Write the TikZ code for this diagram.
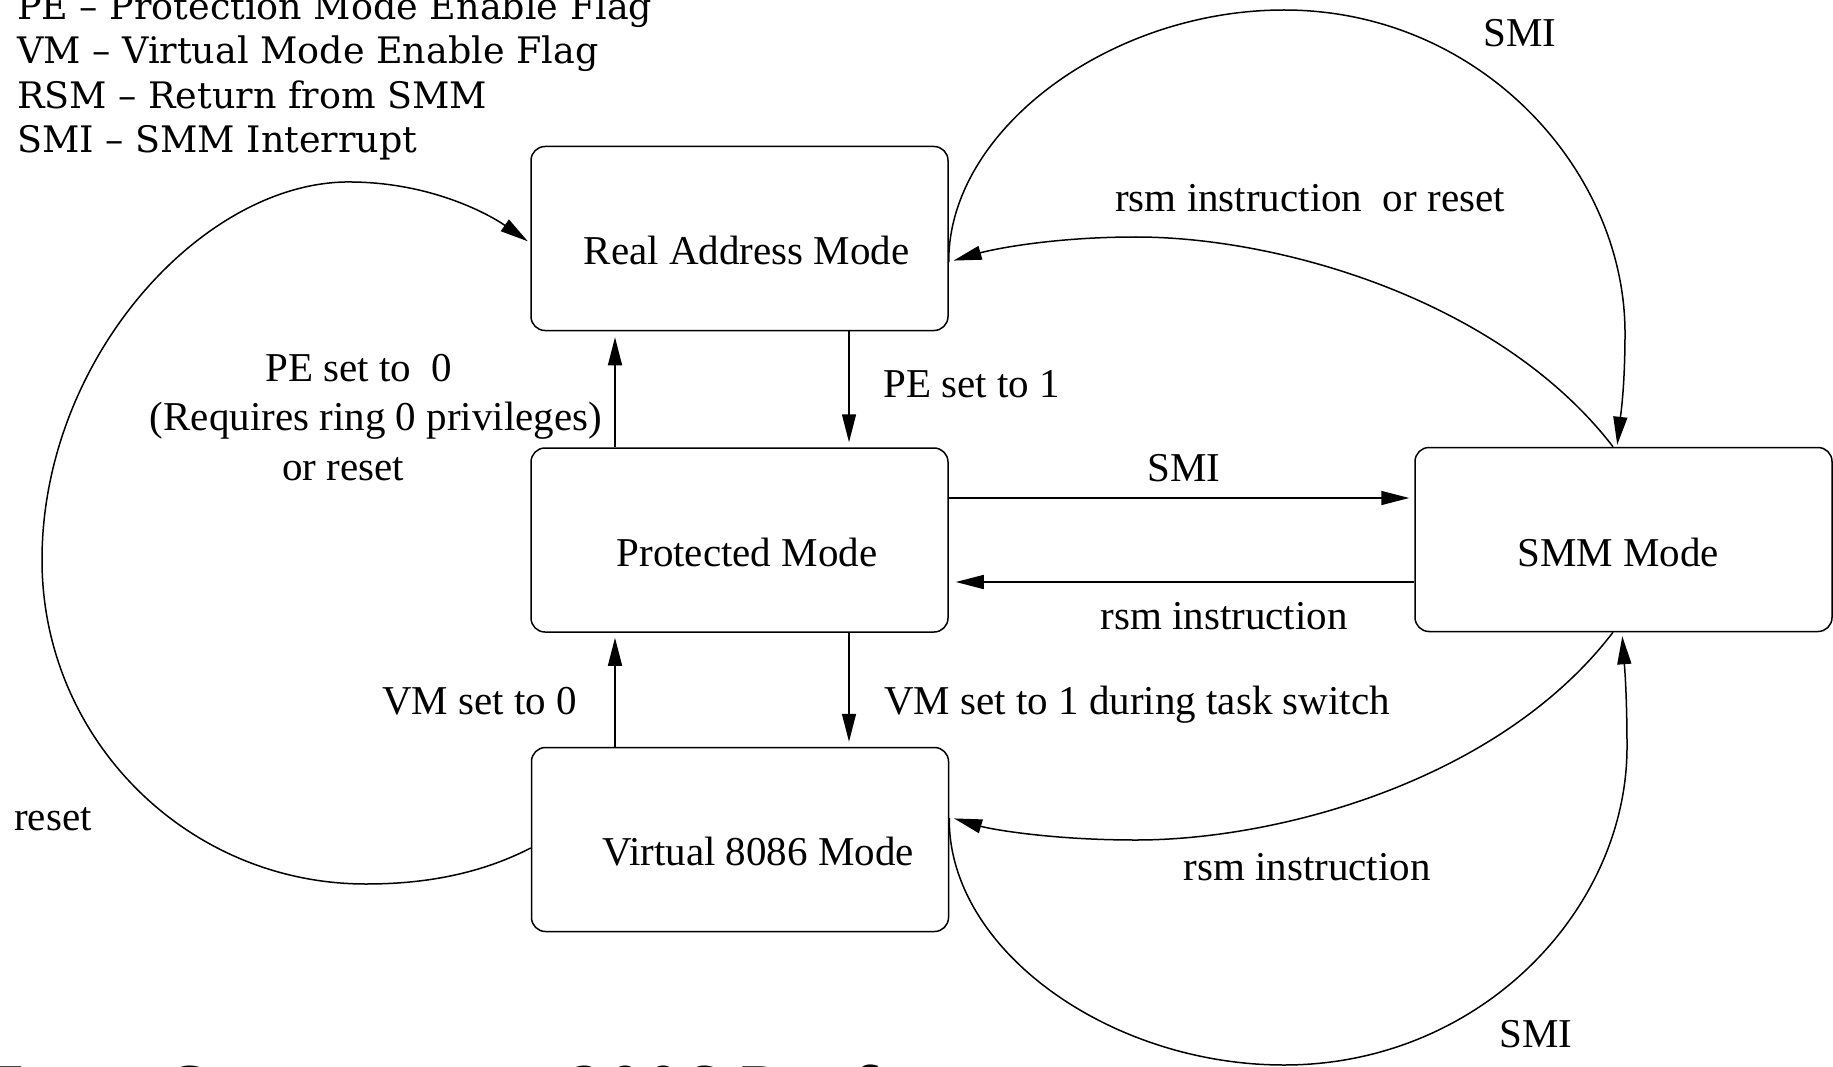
\documentclass[tikz,border=0pt]{standalone}
\usepackage{fontspec}
\setmainfont{Liberation Serif}
\newfontfamily\legendfont{DejaVu Serif}
\usetikzlibrary{arrows.meta,calc}
\begin{document}
\begin{tikzpicture}[x=1pt,y=-1pt,
  mode/.style={draw, rounded corners=14pt, line width=1.5pt, minimum width=417pt, minimum height=184pt, inner sep=0pt},
  lbl/.style={font=\fontsize{41}{49}\selectfont, inner sep=0pt, anchor=base},
  leg/.style={font=\legendfont\fontsize{36.5}{44}\selectfont, inner sep=0pt, anchor=base west},
  arr/.style={line width=1.5pt, -{Triangle[length=28pt,width=14pt]}},
  curve/.style={line width=1.5pt, -{Triangle[length=28pt,width=14pt]}}]
\useasboundingbox (0,0) rectangle (1833,1067);
\clip (0,0) rectangle (1833,1067);

% legend
\node[leg] (legpe) at (17,20) {PE – Protection Mode Enable Flag};
\node[leg] (legvm) at (17,64) {VM – Virtual Mode Enable Flag};
\node[leg] (legrsm) at (17,108.5) {RSM – Return from SMM};
\node[leg] (legsmi) at (17,153) {SMI – SMM Interrupt};

% source line (cut off at the bottom, as in the reference)
\node[font=\legendfont\fontsize{60}{72}\selectfont, inner sep=0pt, anchor=base west] (src) at (-18,1110) {From Grossman et 2006 Draft};

% mode boxes
\node[mode] (real) at (739.5,238.5) {};
\node[mode] (prot) at (739.5,540) {};
\node[mode] (virt) at (740,839.5) {};
\node[mode] (smm) at (1623.5,539.5) {};

\node[lbl] (realtxt) at (746.5,265) {Real Address Mode};
\node[lbl] (prottxt) at (747,566) {Protected Mode};
\node[lbl] (virttxt) at (758,865) {Virtual 8086 Mode};
\node[lbl] (smmtxt) at (1618,566) {SMM Mode};

% vertical transitions
\draw[arr, shorten >=6pt] (615,0 |- prot.north) -- (615,0 |- real.south);
\draw[arr, shorten >=5pt] (849,0 |- real.south) -- (849,0 |- prot.north);
\draw[arr, shorten >=5pt] (615,0 |- virt.north) -- (615,0 |- prot.south);
\draw[arr, shorten >=5pt] (849,0 |- prot.south) -- (849,0 |- virt.north);

% protected <-> SMM
\draw[arr, shorten >=5pt] (prot.east |- 0,498) -- (smm.west |- 0,498);
\draw[arr, shorten >=7pt] (smm.west |- 0,582) -- (prot.east |- 0,582);

% reset loop on the left
\draw[curve, shorten >=3pt] (virt.west |- 0,848) .. controls (480,874) and (425,884) .. (366,884)
  .. controls (187,884) and (42,739) .. (42,560)
  .. controls (42,360) and (200,185) .. (345,182)
  .. controls (430,181) and (490,215) .. (real.west |- 0,243);

% real <-> SMM
\draw[curve, shorten >=2pt] (real.east |- 0,262) .. controls (948,130) and (1110,10) .. (1284,10)
  .. controls (1480,10) and (1625,170) .. (1625,333)
  .. controls (1625,390) and (1620,420) .. (1617,0 |- smm.north);
\draw[curve, shorten >=5pt] (1613,0 |- smm.north) .. controls (1500,300) and (1280,237) .. (1136,237)
  .. controls (1050,237) and (990,250) .. (real.east |- 0,262);

% virtual <-> SMM
\draw[curve, shorten >=5pt] (1613,0 |- smm.south) .. controls (1500,780) and (1280,840) .. (1136,840)
  .. controls (1050,840) and (990,829) .. (virt.east |- 0,817);
\draw[curve, shorten >=4pt] (virt.east |- 0,818) .. controls (948,950) and (1110,1065) .. (1284,1065)
  .. controls (1480,1065) and (1627,910) .. (1627,747)
  .. controls (1627,690) and (1624,660) .. (1622,0 |- smm.south);

% labels
\node[lbl] (pe0) at (359,381) {PE set to~ 0};
\node[lbl] (pe0b) at (376,430) {(Requires ring 0 privileges)};
\node[lbl] (pe0c) at (343,480) {or reset};
\node[lbl, anchor=base west] (pe1) at (883,397) {PE set to 1};
\node[lbl, anchor=base east] (vm0) at (577,714) {VM set to 0};
\node[lbl, anchor=base west] (vm1) at (884,714) {VM set to 1 during task switch};
\node[lbl] (smimid) at (1184,481) {SMI};
\node[lbl] (rsmmid) at (1224,629) {rsm instruction};
\node[lbl] (smitop) at (1520,47) {SMI};
\node[lbl] (rsmtop) at (1310,212) {rsm instruction~ or reset};
\node[lbl] (rsmlow) at (1307,880) {rsm instruction};
\node[lbl] (smilow) at (1536,1047) {SMI};
\node[lbl, anchor=base west] (resetlbl) at (14,830) {reset};
\end{tikzpicture}
\end{document}
